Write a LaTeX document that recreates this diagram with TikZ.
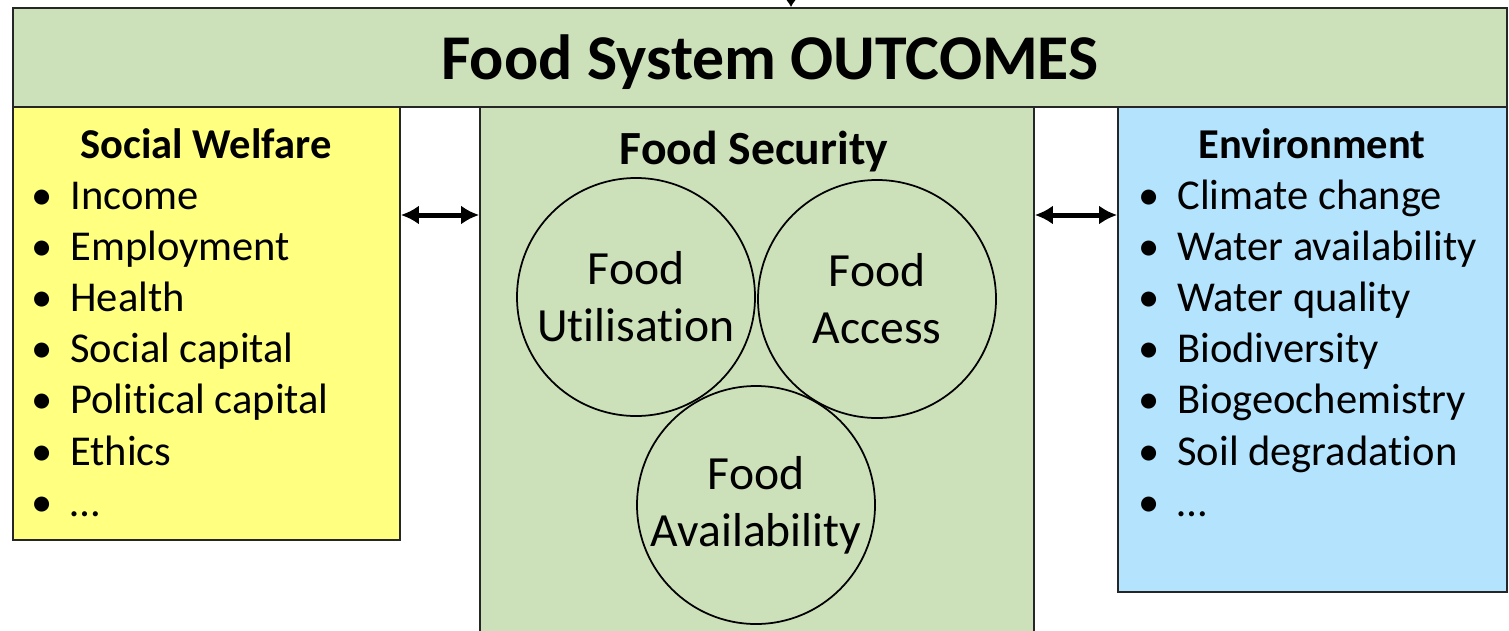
\documentclass[tikz,border=0pt]{standalone}
\usepackage{fontspec}
\setmainfont{Carlito}[Ligatures={NoCommon}]
\usetikzlibrary{arrows.meta}
\usetikzlibrary{fit}
\usetikzlibrary{positioning}
\definecolor{fsgreen}{RGB}{204,224,185}
\definecolor{swyellow}{RGB}{255,255,128}
\definecolor{envblue}{RGB}{180,228,253}

\begin{document}
\begin{tikzpicture}[x=0.2mm,y=-0.2mm,>={Latex[length=3.6mm,width=3.8mm]},
    panel/.style={draw=black!85,line width=0.35mm,inner sep=0pt},
    ring/.style={draw,circle,line width=0.35mm,minimum size=47.6mm,inner sep=0pt,
      align=center,font=\fontsize{27.1}{32.4}\selectfont},
    head/.style={anchor=base,inner sep=0pt,font=\bfseries\fontsize{24.2}{30}\selectfont},
    dot/.style={anchor=base,inner sep=0pt,font=\fontsize{24.2}{28}\selectfont},
    item/.style={anchor=base west,inner sep=0pt,font=\fontsize{24.2}{28}\selectfont}]
  \useasboundingbox (0,0) rectangle (1509,630);

  % side panels
  \node[panel,fill=swyellow,fit={(13,107) (400,540)}] (social) {};
  \node[panel,fill=fsgreen,fit={(480,107) (1034,660)}] (security) {};
  \node[panel,fill=envblue,fit={(1118,107) (1507,592)}] (env) {};

  % top bar
  \node[panel,fill=fsgreen,fit={(13,8) (1507,107)}] (outcomes) {};
  \node[anchor=base,inner sep=0pt,font=\bfseries\fontsize{36.3}{45}\selectfont]
    (title) at (770,79) {Food System OUTCOMES};
  \coordinate (feed) at (791,-30);
  \draw[-{Latex[length=1.6mm,width=2.2mm]},line width=0.3mm] (feed) -- (outcomes.north -| feed);

  % headings
  \node[head] (swhead) at (206,158) {Social Welfare};
  \node[head,font=\bfseries\fontsize{27.1}{32}\selectfont] (fshead) at (754,164) {Food Security};
  \node[head] (envhead) at (1312,158) {Environment};

  % lists
  \foreach \txt [count=\i] in {Income,Employment,Health,Social capital,Political capital,Ethics,…} {
    \node[dot] (swdot\i) at (42,{209+51.2*(\i-1)}) {\textbullet};
    \node[item] (sw\i) at (70,{209+51.2*(\i-1)}) {\txt};
  }
  \foreach \txt [count=\i] in {Climate change,Water availability,Water quality,Biodiversity,Biogeochemistry,Soil degradation,…} {
    \node[dot] (envdot\i) at (1149,{209+51.2*(\i-1)}) {\textbullet};
    \node[item] (env\i) at (1177,{209+51.2*(\i-1)}) {\txt};
  }

  % food security circles
  \node[ring] (util) at (636,297) {Food\\Utilisation};
  \node[ring] (access) at (877,299) {Food\\Access};
  \node[ring] (avail) at (756,505) {Food\\Availability};

  % links
  \coordinate (linkrow) at (0,215);
  \draw[<->,line width=1mm] (social.east |- linkrow) -- (security.west |- linkrow);
  \draw[<->,line width=1mm] (security.east |- linkrow) -- (env.west |- linkrow);
\end{tikzpicture}
\end{document}
